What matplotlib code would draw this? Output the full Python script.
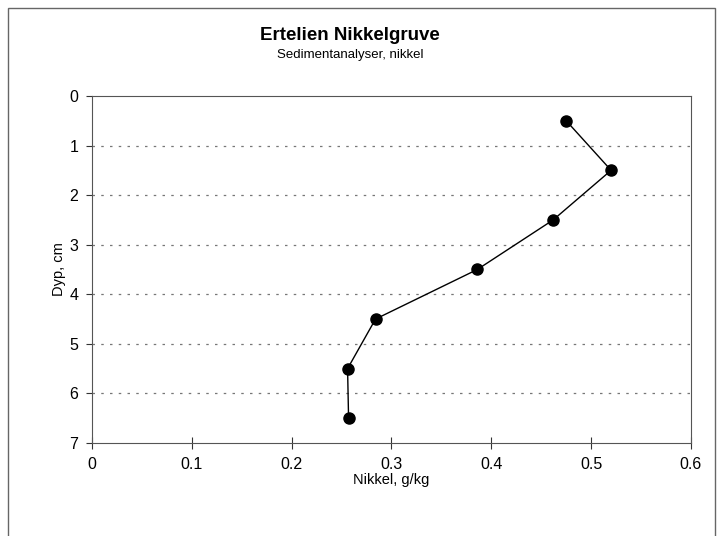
import matplotlib.pyplot as plt
from matplotlib.patches import Rectangle

plt.rcParams['font.family'] = ['Liberation Sans', 'DejaVu Sans']

# data
dyp = [0.5, 1.5, 2.5, 3.5, 4.5, 5.5, 6.5]
nikkel = [0.475, 0.520, 0.462, 0.386, 0.284, 0.256, 0.257]
x_ticks = [0, 0.1, 0.2, 0.3, 0.4, 0.5, 0.6]
y_ticks = [0, 1, 2, 3, 4, 5, 6, 7]

fig = plt.figure(figsize=(7.19, 5.36), dpi=100)
ax = fig.add_axes([0.128, 0.1735, 0.833, 0.6475])

ax.plot(nikkel, dyp, color="black", linewidth=1.0, marker="o",
        markersize=8, markerfacecolor="black", markeredgecolor="black")

ax.set_xlim(0, 0.6)
ax.set_ylim(7, 0)
ax.set_xticks(x_ticks)
ax.set_xticklabels(["0", "0.1", "0.2", "0.3", "0.4", "0.5", "0.6"])
ax.set_yticks(y_ticks)

for y in y_ticks[1:-1]:
    ax.axhline(y, color="#777777", linewidth=0.9, linestyle=(0, (2, 5)), zorder=0)

for s in ax.spines.values():
    s.set_color("#555555")
    s.set_linewidth(0.8)

ax.tick_params(axis="x", direction="inout", length=8, width=0.8, color="#333333",
               labelsize=11.5, pad=6)
ax.tick_params(axis="y", direction="out", length=4, width=0.8, color="#333333",
               labelsize=11.5, pad=6)

ax.set_xlabel("Nikkel, g/kg", fontsize=10.5, labelpad=1)
ax.set_ylabel("Dyp, cm", fontsize=10.5, labelpad=2)

fig.text(0.487, 0.934, "Ertelien Nikkelgruve", ha="center", va="center",
         fontsize=13.5, fontweight="bold")
fig.text(0.487, 0.898, "Sedimentanalyser, nikkel", ha="center", va="center",
         fontsize=9.5)

# outer frame of the chart
fig.patches.append(Rectangle((8 / 719, -0.05), 707 / 719, 1 - 8 / 536 + 0.05,
                             transform=fig.transFigure, fill=False,
                             edgecolor="#666666", linewidth=1.0))

fig.savefig("out.png", dpi=100)
